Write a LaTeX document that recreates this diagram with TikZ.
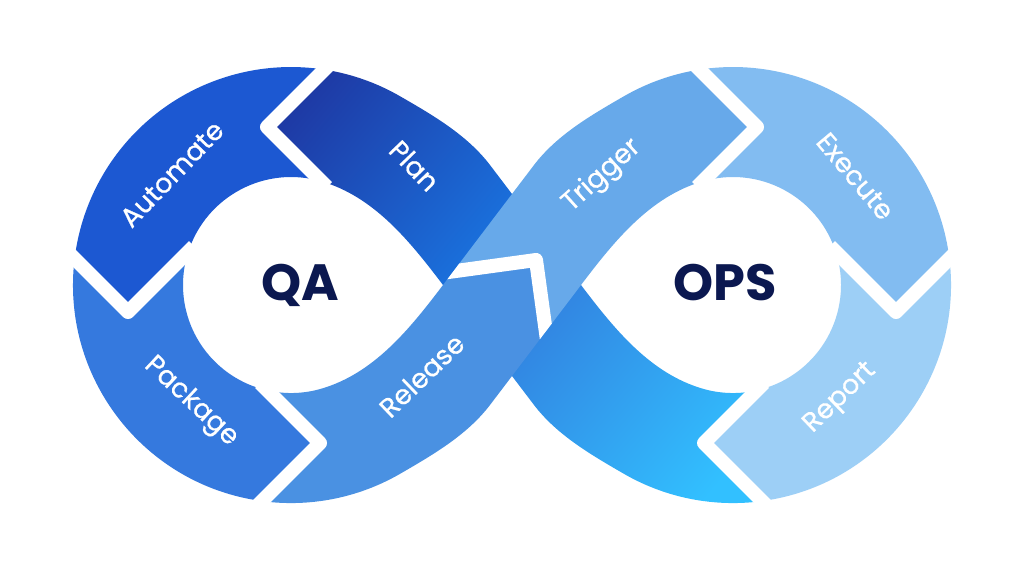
\documentclass[tikz,border=0pt]{standalone}
\usepackage{fontspec}
\setmainfont{Poppins}
\newfontfamily\lblfont{Poppins}[FakeBold=0.7]
\definecolor{automateC}{RGB}{28,88,210}
\definecolor{planA}{RGB}{30,58,165}
\definecolor{planB}{RGB}{26,112,220}
\definecolor{packageC}{RGB}{53,121,222}
\definecolor{releaseC}{RGB}{74,145,226}
\definecolor{triggerC}{RGB}{103,169,234}
\definecolor{executeC}{RGB}{130,188,241}
\definecolor{reportC}{RGB}{157,207,246}
\definecolor{gradA}{RGB}{50,134,226}
\definecolor{gradB}{RGB}{50,192,255}
\definecolor{hubC}{RGB}{11,24,80}
\tikzset{
  gap/.style={draw=white, line width=14pt, line join=round},
  lbl/.style={text=white, inner sep=0pt, anchor=center, text height=0.72em, text depth=0pt,
              font=\lblfont\fontsize{27}{32}\selectfont},
  hub/.style={text=hubC, inner sep=0pt, anchor=base, font=\fontsize{51}{60}\selectfont\bfseries}
}
\begin{document}
\begin{tikzpicture}[x=1pt,y=-1pt]
\useasboundingbox (0,0) rectangle (1024,573);
\fill[white] (0,0) rectangle (1024,573);
% Plan (gradient, upper-left band)
\shade[top color=planA, bottom color=planB, shading angle=50]
  (267,127) -- (324.4,69.6) arc[start angle=-81.19, end angle=-60, radius=218]
  .. controls (432.9,115.2) and (467.2,135.0) .. (490.2,165.3) -- (512,194) -- (512,285) -- (443,285)
  .. controls (409.8,241.2) and (374.1,196.7) .. (321.3,181.3) -- cycle;
% lower-right gradient band
\shade[top color=gradA, bottom color=gradB, shading angle=50]
  (512,285) -- (581,285) .. controls (614.2,328.8) and (649.9,373.3) .. (702.7,388.7)
  arc[start angle=106.29, end angle=77.38, radius=108] -- (704,443) -- (762.1,501.1)
  arc[start angle=82.33, end angle=120, radius=218]
  .. controls (591.1,454.8) and (556.8,435.0) .. (533.8,404.7) -- (512,376) -- cycle;
% Automate
\fill[automateC] (324.4,69.6) arc[start angle=-81.19, end angle=-173.04, radius=218] -- (128,312) -- (188.3,251.7)
  arc[start angle=-162.03, end angle=-73.71, radius=108] -- (267,127) -- cycle;
% Package
\fill[packageC] (74.6,258.6) arc[start angle=186.96, end angle=97.67, radius=218] -- (320,443) -- (267.4,390.4)
  arc[start angle=102.62, end angle=197.97, radius=108] -- (128,312) -- cycle;
% Execute
\fill[executeC] (699.6,69.6) arc[start angle=-98.81, end angle=-6.96, radius=218] -- (896,312) -- (835.7,251.7)
  arc[start angle=-17.97, end angle=-106.29, radius=108] -- (757,127) -- cycle;
% Report
\fill[reportC] (949.4,258.6) arc[start angle=-6.96, end angle=82.33, radius=218] -- (704,443) -- (756.6,390.4)
  arc[start angle=77.38, end angle=-17.97, radius=108] -- (896,312) -- cycle;
% Release
\fill[releaseC] (267.4,390.4) -- (320,443) -- (261.9,501.1) arc[start angle=97.67, end angle=60, radius=218]
  .. controls (432.9,454.8) and (467.2,435.0) .. (490.2,404.7) -- (512,376) -- (545.8,331.4) -- (536,260)
  -- (453.4,271.3) -- (443,285) .. controls (409.8,328.8) and (374.1,373.3) .. (321.3,388.7)
  arc[start angle=73.71, end angle=102.62, radius=108] -- cycle;
% Trigger
\fill[triggerC] (453.4,271.3) -- (536,260) -- (545.8,331.4) -- (581,285)
  .. controls (614.2,241.2) and (649.9,196.7) .. (702.7,181.3) -- (757,127) -- (699.6,69.6)
  arc[start angle=-98.81, end angle=-120, radius=218]
  .. controls (591.1,115.2) and (556.8,135.0) .. (533.8,165.3) -- (512,194) -- cycle;
% white chevron gaps
\draw[gap] (337,57) -- (267,127) -- (327,187);
\draw[gap] (63,247) -- (128,312) -- (194,246);
\draw[gap] (252,511) -- (320,443) -- (260,383);
\draw[gap] (687,57) -- (757,127) -- (697,187);
\draw[gap] (961,247) -- (896,312) -- (830,246);
\draw[gap] (772,511) -- (704,443) -- (764,383);
\begin{scope}
  \clip (352.4,404.5) -- (533.6,165.5) -- (671.6,165.5) -- (490.4,404.5) -- cycle;
  \draw[gap] (436.9,273.6) -- (536,260) -- (549.6,359.1);
\end{scope}
% labels
\node[lbl, rotate=46] (automate) at (176,178) {Automate};
\node[lbl, rotate=-46] (plan) at (410,170) {Plan};
\node[lbl, rotate=-43] (package) at (189,404) {Package};
\node[lbl, rotate=44] (release) at (426,380) {Release};
\node[lbl, rotate=42] (trigger) at (604,178) {Trigger};
\node[lbl, rotate=-50] (execute) at (851,180) {Execute};
\node[lbl, rotate=44] (report) at (842,400) {Report};
\node[hub] (qa) at (300,300) {QA};
\node[hub] (ops) at (725.5,300) {OPS};
\end{tikzpicture}
\end{document}
